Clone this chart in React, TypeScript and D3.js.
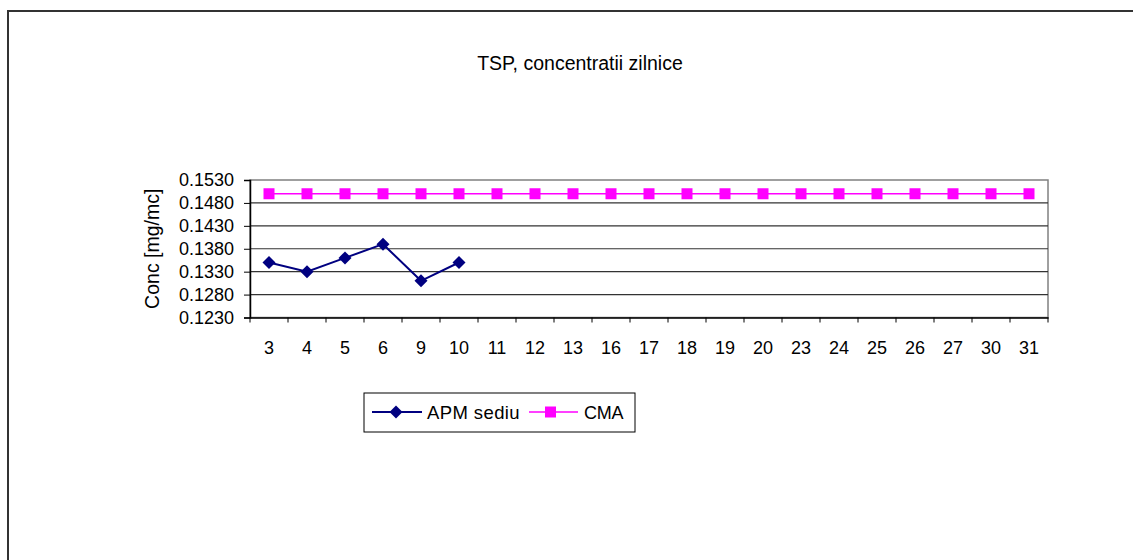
import { useEffect, useRef } from 'react';
import * as d3 from 'd3';

const days = ['3', '4', '5', '6', '9', '10', '11', '12', '13', '16', '17', '18', '19', '20', '23', '24', '25', '26', '27', '30', '31'];
const apmDays = ['3', '4', '5', '6', '9', '10'];
const apmValues = [0.135, 0.133, 0.136, 0.139, 0.131, 0.135];
const cmaValues = days.map(() => 0.15);
const yTicks = [0.123, 0.128, 0.133, 0.138, 0.143, 0.148, 0.153];

const FONT = 'Arial, "Liberation Sans", sans-serif';

export default function App() {
  const svgRef = useRef<SVGSVGElement>(null);

  useEffect(() => {
    if (!svgRef.current) return;
    document.body.style.overflow = 'hidden';
    const width = 1133;
    const height = 560;
    const plot = { left: 250, right: 1048, top: 180, bottom: 317.5 };

    const svg = d3.select(svgRef.current);
    svg.selectAll('*').remove();
    svg.attr('width', width).attr('height', height);

    svg.append('rect').attr('width', width).attr('height', height).attr('fill', '#fff');

    // outer chart frame, runs off the right and bottom edges
    svg.append('path')
      .attr('d', `M8,${height}V11H${width}`)
      .attr('fill', 'none').attr('stroke', '#333').attr('stroke-width', 2);

    const x = d3.scaleBand().domain(days).range([plot.left, plot.right]).padding(0);
    const y = d3.scaleLinear().domain([0.123, 0.153]).range([plot.bottom, plot.top]);
    const cx = (d: string) => (x(d) ?? 0) + x.bandwidth() / 2;

    // plot border (gray)
    svg.append('rect')
      .attr('x', plot.left).attr('y', plot.top)
      .attr('width', plot.right - plot.left).attr('height', plot.bottom - plot.top)
      .attr('fill', 'none').attr('stroke', '#808080').attr('stroke-width', 1.5);

    // gridlines
    svg.append('g').selectAll('line')
      .data(yTicks.slice(1, -1))
      .enter().append('line')
      .attr('x1', plot.left).attr('x2', plot.right)
      .attr('y1', d => y(d)).attr('y2', d => y(d))
      .attr('stroke', '#333').attr('stroke-width', 1.2);

    // y axis
    const yAxis = svg.append('g')
      .attr('transform', `translate(${plot.left},0)`)
      .call(d3.axisLeft(y).tickValues(yTicks).tickFormat(d3.format('.4f')).tickSize(6).tickPadding(10));
    yAxis.select('.domain').attr('stroke', '#000').attr('stroke-width', 1.5);
    yAxis.selectAll('.tick line').attr('stroke', '#000');
    yAxis.selectAll('text').attr('font-family', FONT).attr('font-size', 18).attr('fill', '#000');

    // x axis
    const xAxis = svg.append('g')
      .attr('transform', `translate(0,${plot.bottom})`)
      .call(d3.axisBottom(x).tickSize(0).tickPadding(0));
    xAxis.select('.domain').attr('stroke', '#000').attr('stroke-width', 1.5);
    xAxis.selectAll('.tick text')
      .attr('font-family', FONT).attr('font-size', 18).attr('fill', '#000')
      .attr('dy', 0).attr('y', 36);
    // x ticks on category boundaries
    svg.append('g').selectAll('line')
      .data([...days.map(d => x(d) ?? 0), plot.right])
      .enter().append('line')
      .attr('x1', d => d).attr('x2', d => d)
      .attr('y1', plot.bottom).attr('y2', plot.bottom + 5)
      .attr('stroke', '#000');

    // CMA series
    const cmaLine = d3.line<number>().x((_, i) => cx(days[i])).y(d => y(d));
    svg.append('path')
      .attr('d', cmaLine(cmaValues))
      .attr('fill', 'none').attr('stroke', '#FF00FF').attr('stroke-width', 1.5);
    svg.append('g').selectAll('rect')
      .data(cmaValues)
      .enter().append('rect')
      .attr('x', (_, i) => cx(days[i]) - 5.5)
      .attr('y', d => y(d) - 5.5)
      .attr('width', 11).attr('height', 11)
      .attr('fill', '#FF00FF');

    // APM sediu series
    const apmLine = d3.line<number>().x((_, i) => cx(apmDays[i])).y(d => y(d));
    svg.append('path')
      .attr('d', apmLine(apmValues))
      .attr('fill', 'none').attr('stroke', '#000080').attr('stroke-width', 2);
    const diamond = (px: number, py: number, r: number) =>
      `M${px},${py - r}L${px + r},${py}L${px},${py + r}L${px - r},${py}Z`;
    svg.append('g').selectAll('path')
      .data(apmValues)
      .enter().append('path')
      .attr('d', (d, i) => diamond(cx(apmDays[i]), y(d), 6.5))
      .attr('fill', '#000080');

    // title
    svg.append('text')
      .attr('x', 580).attr('y', 70)
      .attr('text-anchor', 'middle')
      .attr('font-family', FONT).attr('font-size', 19.5)
      .text('TSP, concentratii zilnice');

    // y axis title
    svg.append('text')
      .attr('transform', `translate(159,${(plot.top + plot.bottom) / 2}) rotate(-90)`)
      .attr('text-anchor', 'middle')
      .attr('font-family', FONT).attr('font-size', 19.5)
      .text('Conc [mg/mc]');

    // legend
    const lg = svg.append('g');
    lg.append('rect')
      .attr('x', 364).attr('y', 393).attr('width', 271).attr('height', 39)
      .attr('fill', '#fff').attr('stroke', '#000').attr('stroke-width', 1);
    const ly = 412;
    lg.append('line').attr('x1', 372).attr('x2', 422).attr('y1', ly).attr('y2', ly)
      .attr('stroke', '#000080').attr('stroke-width', 2);
    lg.append('path').attr('d', diamond(396, ly, 6.5)).attr('fill', '#000080');
    lg.append('text').attr('x', 427).attr('y', ly + 6.5)
      .attr('font-family', FONT).attr('font-size', 18.5).attr('letter-spacing', 0.4)
      .text('APM sediu');
    lg.append('line').attr('x1', 529).attr('x2', 578).attr('y1', ly).attr('y2', ly)
      .attr('stroke', '#FF00FF').attr('stroke-width', 1.5);
    lg.append('rect').attr('x', 545).attr('y', ly - 5.5).attr('width', 11).attr('height', 11)
      .attr('fill', '#FF00FF');
    lg.append('text').attr('x', 584).attr('y', ly + 6.5)
      .attr('font-family', FONT).attr('font-size', 18).attr('letter-spacing', -0.3)
      .text('CMA');
  }, []);

  return (
    <div style={{ position: 'absolute', left: 0, top: 0, width: 1133, height: 560, overflow: 'hidden' }}>
      <svg ref={svgRef} style={{ display: 'block', overflow: 'hidden' }} />
    </div>
  );
}
